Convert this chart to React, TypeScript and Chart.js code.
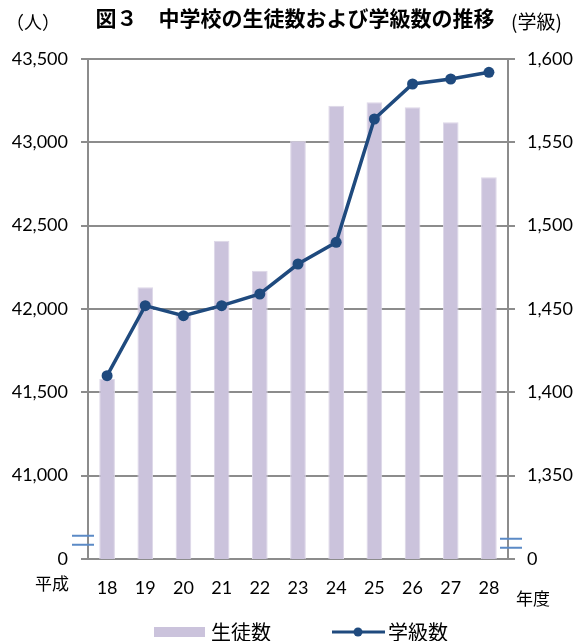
import React, { useEffect, useRef } from "react";
import { Chart, registerables } from "chart.js";

Chart.register(...registerables);

const categories = ["18", "19", "20", "21", "22", "23", "24", "25", "26", "27", "28"];
const students = [41580, 42130, 41970, 42410, 42230, 43010, 43220, 43240, 43210, 43120, 42790];
const classes = [1410, 1452, 1446, 1452, 1459, 1477, 1490, 1564, 1585, 1588, 1592];
const leftTicks = { min: 40500, max: 43500, step: 500 };
const rightTicks = { min: 1300, max: 1600, step: 50 };
const titleText = "図３　中学校の生徒数および学級数の推移";
const leftUnit = "（人）";
const rightUnit = "(学級)";
const eraLabel = "平成";
const yearLabel = "年度";
const seriesNames = ["生徒数", "学級数"];

const BAR_COLOR = "#CBC3DC";
const LINE_COLOR = "#1F4A7E";
const GRID_COLOR = "#8C8C8C";
const BREAK_COLOR = "#5B8AC6";
const TICK_FONT = { family: "Lato", size: 18 };
const CJK = '"Noto Sans CJK JP"';

const fmt = (v: number) => v.toLocaleString("en-US");

const extras = {
  id: "extras",
  afterDraw(chart: any) {
    const ctx = chart.ctx;
    const area = chart.chartArea;
    const yl = chart.scales.y;
    const yr = chart.scales.y1;
    ctx.save();
    // title
    ctx.fillStyle = "#000";
    ctx.textBaseline = "middle";
    ctx.textAlign = "center";
    ctx.font = `bold 21px ${CJK}`;
    ctx.fillText(titleText, 295, 18);
    ctx.font = `18px ${CJK}`;
    ctx.textAlign = "left";
    ctx.fillText(leftUnit, 6, 22);
    ctx.font = `19px ${CJK}`;
    ctx.fillText(rightUnit, 511, 22);
    ctx.font = `17px ${CJK}`;
    ctx.fillText(eraLabel, 35, 584);
    ctx.fillText(yearLabel, 516, 599);

    // axis break markers
    const yBreakL = (yl.getPixelForValue(leftTicks.min) + yl.getPixelForValue(leftTicks.min + leftTicks.step)) / 2;
    const yBreakR = (yr.getPixelForValue(rightTicks.min) + yr.getPixelForValue(rightTicks.min + rightTicks.step)) / 2;
    ctx.strokeStyle = BREAK_COLOR;
    ctx.lineWidth = 2;
    const drawBreak = (x: number, y: number) => {
      ctx.beginPath();
      ctx.moveTo(x - 12, y - 4.5);
      ctx.lineTo(x + 10, y - 4.5);
      ctx.moveTo(x - 12, y + 4.5);
      ctx.lineTo(x + 10, y + 4.5);
      ctx.stroke();
    };
    drawBreak(area.left - 4, yBreakL + 23);
    drawBreak(area.right + 4, yBreakR + 26);

    // legend
    const ly = 632;
    ctx.fillStyle = BAR_COLOR;
    ctx.fillRect(154, ly - 5, 51, 10);
    ctx.fillStyle = "#000";
    ctx.font = `20px ${CJK}`;
    ctx.textAlign = "left";
    ctx.fillText(seriesNames[0], 211, ly);
    ctx.strokeStyle = LINE_COLOR;
    ctx.lineWidth = 3;
    ctx.beginPath();
    ctx.moveTo(332, ly);
    ctx.lineTo(385, ly);
    ctx.stroke();
    ctx.fillStyle = LINE_COLOR;
    ctx.beginPath();
    ctx.arc(358, ly, 4.5, 0, Math.PI * 2);
    ctx.fill();
    ctx.fillStyle = "#000";
    ctx.fillText(seriesNames[1], 388, ly);
    ctx.restore();
  },
};

export default function App() {
  const ref = useRef<HTMLCanvasElement>(null);
  useEffect(() => {
    document.body.style.margin = "0";
    const chart = new Chart(ref.current!, {
      type: "bar",
      data: {
        labels: categories,
        datasets: [
          {
            type: "line",
            label: seriesNames[1],
            data: classes,
            yAxisID: "y1",
            borderColor: LINE_COLOR,
            backgroundColor: LINE_COLOR,
            borderWidth: 3.5,
            pointRadius: 5.5,
            pointBackgroundColor: LINE_COLOR,
            pointBorderWidth: 0,
            tension: 0,
            order: 0,
          } as any,
          {
            type: "bar",
            label: seriesNames[0],
            data: students,
            yAxisID: "y",
            backgroundColor: BAR_COLOR,
            borderColor: "#DDD7E8",
            borderWidth: 1,
            barPercentage: 0.41,
            categoryPercentage: 1,
            order: 1,
          } as any,
        ],
      },
      options: {
        responsive: false,
        animation: false,
        devicePixelRatio: 1,
        layout: { padding: { top: 59, left: 0, right: 0, bottom: 0 } },
        plugins: { legend: { display: false }, title: { display: false }, tooltip: { enabled: false } },
        scales: {
          x: {
            offset: true,
            grid: { display: false, drawTicks: false },
            border: { display: true, color: GRID_COLOR, width: 2 },
            ticks: { font: TICK_FONT, color: "#000", padding: 18, maxRotation: 0 },
            afterFit: (s: any) => {
              s.height = 82;
            },
          },
          y: {
            position: "left",
            min: leftTicks.min,
            max: leftTicks.max,
            ticks: {
              stepSize: leftTicks.step,
              font: TICK_FONT,
              color: "#000",
              padding: 13,
              callback: (v: any) => (v === leftTicks.min ? "0" : fmt(v)),
            },
            grid: { color: GRID_COLOR, lineWidth: 2, tickLength: 7 },
            border: { display: true, color: GRID_COLOR, width: 2 },
            afterFit: (s: any) => {
              s.width = 88;
            },
          },
          y1: {
            position: "right",
            min: rightTicks.min,
            max: rightTicks.max,
            ticks: {
              stepSize: rightTicks.step,
              font: TICK_FONT,
              color: "#000",
              padding: 12,
              callback: (v: any) => (v === rightTicks.min ? "0" : fmt(v)),
            },
            grid: { drawOnChartArea: false, color: GRID_COLOR, lineWidth: 2, tickLength: 7 },
            border: { display: true, color: GRID_COLOR, width: 2 },
            afterFit: (s: any) => {
              s.width = 69;
            },
          },
        },
      } as any,
      plugins: [extras],
    });
    return () => chart.destroy();
  }, []);
  return (
    <div style={{ width: 577, height: 641 }}>
      <canvas ref={ref} width={577} height={641} style={{ display: "block" }} />
    </div>
  );
}
